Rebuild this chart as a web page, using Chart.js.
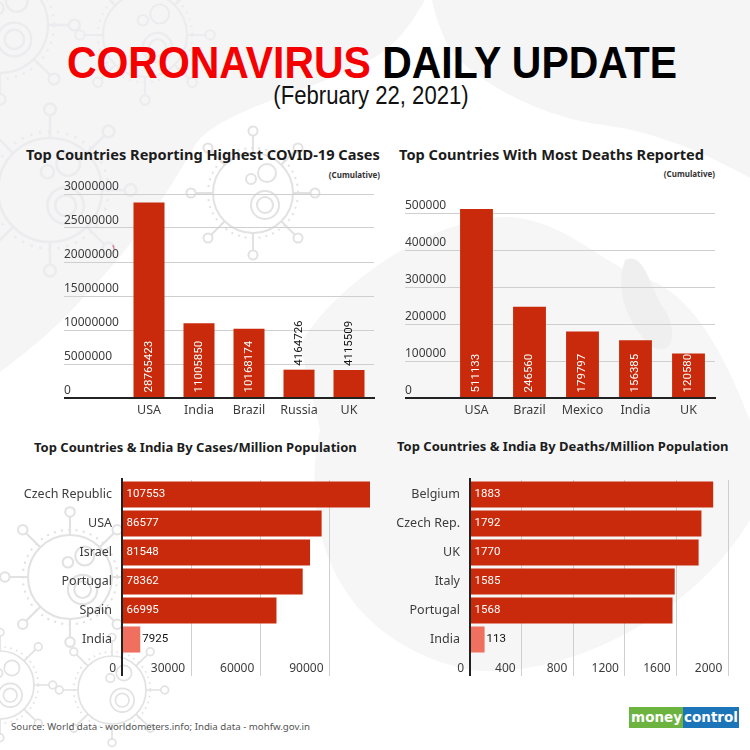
<!DOCTYPE html>
<html>
<head>
<meta charset="utf-8">
<script src="https://cdn.jsdelivr.net/npm/chart.js@4/dist/chart.umd.min.js"></script>
<style>
    html, body { margin: 0; padding: 0; background: #fff; }
    #page { position: relative; width: 750px; height: 750px; overflow: hidden; font-family: "Noto Sans", sans-serif; }
    #page > svg { position: absolute; left: 0; top: 0; }
    #page canvas { position: absolute; }
    .txt { position: absolute; white-space: nowrap; }
    .head { font: bold 44px "Liberation Sans", sans-serif; left: 0; width: 744px; text-align: center; top: 38px; color: #000; transform: scaleX(0.93); }
    .head span { color: #f40000; }
    .date { font: 26px "Liberation Sans", sans-serif; left: 0; width: 742px; text-align: center; top: 80px; color: #111; transform: scaleX(0.85); }
    .title { font-weight: 700; font-size: 14.6px; color: #1c1c1c; }
    .small { font-size: 13px; }
    .note { font-weight: 700; font-size: 8px; color: #333; }
    .source { font-size: 9.7px; color: #555; left: 11px; top: 720px; }
    #logo { position: absolute; left: 629px; top: 707px; width: 110px; height: 21px; display: flex; color: #fff; font: bold 13.5px "DejaVu Sans", sans-serif; line-height: 21px; }
    #logo b { display: block; width: 54px; padding-right: 1px; box-sizing: border-box; text-align: right; background: #6cb33f; }
    #logo i { display: block; width: 56px; padding-left: 1px; box-sizing: border-box; font-style: normal; background: #1c75b8; }
</style>
</head>
<body>
<div id="page">
    <!-- background blobs and virus drawings -->
    <svg width="750" height="750" viewBox="0 0 750 750">
        <defs>
            <g id="virus" fill="none" stroke-width="2">
                <circle r="40"/>
                <circle r="45" stroke-dasharray="2 5"/>
                <circle cx="12" cy="12" r="14"/><circle cx="12" cy="12" r="8"/>
                <circle cx="14" cy="-20" r="9"/><circle cx="-2" cy="-14" r="5"/>
                <g id="spikes">
                    <path d="M0-40V-58M40 0H58M0 40V58M-40 0H-58M28-28L42-42M28 28L42 42M-28 28L-42 42M-28-28L-42-42"/>
                    <circle cy="-62" r="4.5"/><circle cx="62" r="4.5"/><circle cy="62" r="4.5"/><circle cx="-62" r="4.5"/>
                    <circle cx="45" cy="-45" r="4.5"/><circle cx="45" cy="45" r="4.5"/><circle cx="-45" cy="45" r="4.5"/><circle cx="-45" cy="-45" r="4.5"/>
                </g>
            </g>
        </defs>
        <path fill="#f5f5f6" d="M0 0H425C410 25 395 50 360 65C300 95 220 110 195 145C170 190 130 250 90 290C60 325 30 350 0 372Z"/>
        <path fill="#f5f5f6" d="M432 0H750V178C700 150 650 130 595 124C540 115 480 85 450 50C440 30 435 15 432 0Z"/>
        <path fill="#f6f6f7" d="M300 345C330 290 430 215 510 217C570 222 600 265 650 280C700 300 730 370 750 420V520C690 620 560 680 470 670C330 640 300 520 320 430Z"/>
        <path fill="#efeff0" d="M625 260C645 250 650 290 665 310C680 335 670 360 650 345C625 320 615 290 625 260Z"/>
        <g stroke="#ececee">
            <use href="#virus" transform="translate(50 190) scale(1.3)"/>
            <use href="#virus" transform="translate(145 35) scale(1.05)"/>
            <use href="#virus" transform="translate(0 25) scale(1.2)"/>
        </g>
        <g stroke="#e2e2e3">
            <use href="#virus" transform="translate(253 193)"/>
            <use href="#virus" transform="translate(70 577) scale(1.05)"/>
            <use href="#virus" transform="translate(112 690) scale(0.85)"/>
            <use href="#virus" transform="translate(0 685) scale(0.85)"/>
        </g>
        <path stroke="#d98a9a" stroke-width="1.5" d="M113 245L114 249"/>
    </svg>

    <div class="txt head"><span>CORONAVIRUS</span> DAILY UPDATE</div>
    <div class="txt date">(February 22, 2021)</div>

    <div class="txt title" style="left:26px;top:144px">Top Countries Reporting Highest COVID-19 Cases</div>
    <div class="txt note" style="right:370px;top:169px">(Cumulative)</div>
    <div class="txt title" style="left:399px;top:144px">Top Countries With Most Deaths Reported</div>
    <div class="txt note" style="right:35px;top:168px">(Cumulative)</div>
    <div class="txt title small" style="left:34px;top:438px">Top Countries &amp; India By Cases/Million Population</div>
    <div class="txt title small" style="left:397px;top:437px">Top Countries &amp; India By Deaths/Million Population</div>

    <canvas id="casesChart" style="left:64px;top:178px"></canvas>
    <canvas id="deathsChart" style="left:405px;top:190px"></canvas>
    <canvas id="casesPerMillionChart" style="left:0;top:470px"></canvas>
    <canvas id="deathsPerMillionChart" style="left:375px;top:470px"></canvas>

    <div class="txt source">Source: World data - worldometers.info; India data - mohfw.gov.in</div>
    <div id="logo"><b>money</b><i>control</i></div>
</div>

<script>
// Values
const casesCountries = ['USA', 'India', 'Brazil', 'Russia', 'UK'];
const casesValues = [28765423, 11005850, 10168174, 4164726, 4115509];
const casesTicks = [0, 5000000, 10000000, 15000000, 20000000, 25000000, 30000000];

const deathsCountries = ['USA', 'Brazil', 'Mexico', 'India', 'UK'];
const deathsValues = [511133, 246560, 179797, 156385, 120580];
const deathsTicks = [0, 100000, 200000, 300000, 400000, 500000];

const casesPerMillionCountries = ['Czech Republic', 'USA', 'Israel', 'Portugal', 'Spain', 'India'];
const casesPerMillionValues = [107553, 86577, 81548, 78362, 66995, 7925];
const casesPerMillionTicks = [0, 30000, 60000, 90000];

const deathsPerMillionCountries = ['Belgium', 'Czech Rep.', 'UK', 'Italy', 'Portugal', 'India'];
const deathsPerMillionValues = [1883, 1792, 1770, 1585, 1568, 113];
const deathsPerMillionTicks = [0, 400, 800, 1200, 1600, 2000];

const RED = '#c92a0b';
const SALMON = '#f0705f';
const GRID = '#cfcfd0';
const AXIS = '#222222';
const TEXT = '#3c3c3c';
const CATEGORY_FONT = { family: '"Noto Sans", sans-serif', size: 12.5 };
const TICK_FONT = { family: '"Noto Sans", sans-serif', size: 12 };
const VALUE_FONT = '11.5px Roboto, sans-serif';

Chart.defaults.animation = false;
Chart.defaults.devicePixelRatio = 1;

const gridColor = (ctx) => (ctx.tick && ctx.tick.value === 0 ? 'transparent' : GRID);
const plainNumber = (value) => String(value);

// Explicit ticks, because a fixed max that is no multiple of the step makes Chart.js respace them
const fixedTicks = (values) => (scale) => {
    scale.ticks = values.map((value) => ({ value }));
};

// Value labels sit inside the bar when they fit, outside when they don't.
// The zero line is also drawn here so that it ends up on top of the bars.
const barExtras = {
    id: 'barExtras',
    afterDatasetsDraw(chart) {
        const { ctx, chartArea } = chart;
        const horizontal = chart.options.indexAxis === 'y';
        const data = chart.data.datasets[0].data;

        ctx.save();
        ctx.font = VALUE_FONT;
        ctx.textBaseline = 'middle';
        ctx.textAlign = 'left';
        chart.getDatasetMeta(0).data.forEach((bar, i) => {
            const text = String(data[i]);
            const room = Math.abs(horizontal ? bar.x - bar.base : bar.base - bar.y);
            const inside = ctx.measureText(text).width + 4 < room;
            ctx.fillStyle = inside ? '#ffffff' : '#111111';
            if (horizontal) {
                ctx.fillText(text, inside ? bar.base + 4 : bar.x + 2, bar.y);
            } else {
                ctx.save();
                ctx.translate(bar.x, inside ? bar.base - 5 : bar.y - 4);
                ctx.rotate(-Math.PI / 2);
                ctx.fillText(text, 0, 0);
                ctx.restore();
            }
        });

        ctx.strokeStyle = AXIS;
        ctx.lineWidth = 2;
        ctx.beginPath();
        if (horizontal) {
            const x = chart.scales.x.getPixelForValue(0);
            ctx.moveTo(x, chartArea.top - 2);
            ctx.lineTo(x, chartArea.bottom + 22);
        } else {
            const y = chart.scales.y.getPixelForValue(0);
            ctx.moveTo(0, y);
            ctx.lineTo(chartArea.right + 1, y);
        }
        ctx.stroke();
        ctx.restore();
    },
};

function columnChart(id, labels, values, opts) {
    const canvas = document.getElementById(id);
    canvas.width = opts.width;
    canvas.height = opts.height;
    return new Chart(canvas, {
        type: 'bar',
        data: { labels, datasets: [{ data: values, backgroundColor: RED, categoryPercentage: 1, barPercentage: 0.62 }] },
        plugins: [barExtras],
        options: {
            responsive: false,
            layout: { padding: { top: opts.top, right: 2 } },
            plugins: { legend: { display: false }, tooltip: { enabled: false } },
            scales: {
                x: {
                    grid: { display: false, drawTicks: false },
                    border: { display: false },
                    ticks: { color: TEXT, font: CATEGORY_FONT, padding: 5, maxRotation: 0, autoSkip: false },
                    afterFit: (scale) => { scale.height = 26; },
                },
                y: {
                    min: 0,
                    max: opts.max,
                    border: { display: false },
                    grid: { color: gridColor, tickColor: gridColor, tickLength: opts.gutter },
                    afterBuildTicks: fixedTicks(opts.ticks),
                    ticks: { crossAlign: 'far', labelOffset: -7, color: TEXT, font: TICK_FONT, callback: plainNumber },
                    afterFit: (scale) => { scale.width = opts.gutter; scale.paddingTop = 0; scale.paddingBottom = 0; },
                },
            },
        },
    });
}

function rowChart(id, labels, values, opts) {
    const canvas = document.getElementById(id);
    canvas.width = 375;
    canvas.height = 208;
    return new Chart(canvas, {
        type: 'bar',
        data: {
            labels,
            datasets: [{
                data: values,
                backgroundColor: labels.map((name) => (name === 'India' ? SALMON : RED)),
                categoryPercentage: 1,
                barPercentage: 0.9,
            }],
        },
        plugins: [barExtras],
        options: {
            indexAxis: 'y',
            responsive: false,
            layout: { padding: { top: 10, right: opts.right } },
            plugins: { legend: { display: false }, tooltip: { enabled: false } },
            scales: {
                x: {
                    min: 0,
                    max: opts.max,
                    border: { display: false },
                    grid: { color: gridColor, tickColor: gridColor, tickLength: 22 },
                    afterBuildTicks: fixedTicks(opts.ticks),
                    ticks: { align: 'end', labelOffset: -6, padding: -15, color: TEXT, font: TICK_FONT, maxRotation: 0, callback: plainNumber },
                    afterFit: (scale) => { scale.height = 24; },
                },
                y: {
                    grid: { display: false, drawTicks: false },
                    border: { display: false },
                    ticks: { color: TEXT, font: CATEGORY_FONT, padding: 10, autoSkip: false },
                    afterFit: (scale) => { scale.width = opts.gutter; scale.paddingTop = 0; scale.paddingBottom = 0; },
                },
            },
        },
    });
}

columnChart('casesChart', casesCountries, casesValues, { width: 312, height: 246, top: 16, gutter: 60, max: 30000000, ticks: casesTicks });
columnChart('deathsChart', deathsCountries, deathsValues, { width: 312, height: 234, top: 16, gutter: 45, max: 519000, ticks: deathsTicks });
rowChart('casesPerMillionChart', casesPerMillionCountries, casesPerMillionValues, { gutter: 122, right: 5, max: 107553, ticks: casesPerMillionTicks });
rowChart('deathsPerMillionChart', deathsPerMillionCountries, deathsPerMillionValues, { gutter: 95, right: 21.7, max: 2000, ticks: deathsPerMillionTicks });
</script>
</body>
</html>
